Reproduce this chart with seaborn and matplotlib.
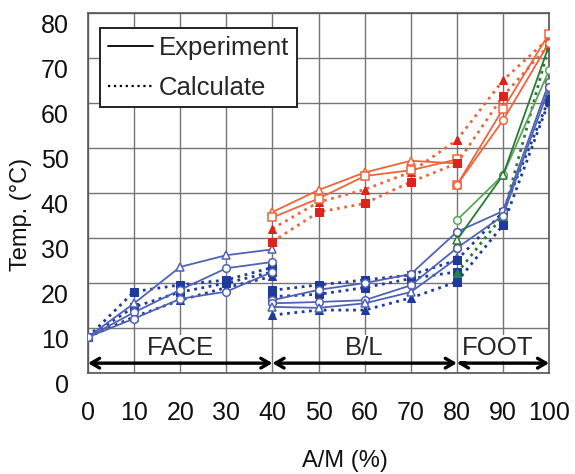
import numpy as np
import pandas as pd
import matplotlib
matplotlib.use("Agg")
import matplotlib.pyplot as plt
import matplotlib.transforms as mtransforms
from matplotlib.lines import Line2D
import seaborn as sns

# ---- data ----
x_face = [0, 10, 20, 30, 40]
face_exp_tri = [8.0, 15.5, 23.6, 26.2, 27.5]
face_exp_cir1 = [8.0, 13.5, 18.5, 23.3, 24.7]
face_exp_cir2 = [8.0, 12.1, 16.5, 18.1, 22.5]
face_calc_sq1 = [8.0, 18.1, 19.6, 20.7, 23.5]
face_calc_sq2 = [8.0, 14.7, 18.0, 20.0, 22.5]
face_calc_tri = [8.0, 12.5, 16.2, 19.0, 21.5]

x_bl = [40, 50, 60, 70, 80]
bl_exp_cir1 = [16.2, 18.5, 20.0, 22.0, 31.4]
bl_exp_cir2 = [15.5, 15.8, 16.2, 19.5, 27.8]
bl_exp_tri = [14.7, 14.5, 15.5, 18.0, 25.5]
bl_calc_sq1 = [18.4, 19.6, 20.7, 21.8, 25.1]
bl_calc_sq2 = [17.0, 17.5, 19.0, 21.0, 22.5]
bl_calc_tri = [12.9, 14.0, 14.0, 16.7, 20.3]

bl_red_exp_tri = [35.8, 40.7, 44.6, 47.2, 46.6]
bl_red_exp_sq = [34.6, 38.8, 43.8, 45.1, 47.5]
bl_red_calc_tri = [32.1, 38.0, 40.8, 44.7, 51.8]
bl_red_calc_sq = [29.2, 35.8, 37.7, 42.5, 46.6]

x_foot = [80, 90, 100]
foot_red_exp_sq = [41.8, 58.7, 75.5]
foot_red_exp_cir = [41.8, 56.2, 73.5]
foot_red_calc_tri = [51.8, 65.1, 74.5]
foot_red_calc_sq = [46.6, 61.6, 73.0]
foot_blue_exp1 = [31.4, 36.0, 64.7]
foot_blue_exp2 = [27.8, 35.0, 63.5]
foot_blue_calc1 = [25.1, 35.8, 61.0]
foot_blue_calc2 = [20.3, 32.9, 60.5]
foot_green_exp1 = [34.0, 44.0, 67.3]
foot_green_exp2 = [29.6, 44.0, 72.9]
foot_green_calc = [22.2, 35.0, 72.9]

regions = ["FACE", "B/L", "FOOT"]
region_edges = [0, 40, 80, 100]
xticks = list(range(0, 101, 10))
yticks = list(range(0, 81, 10))

BLUE_L = "#4f62b4"
BLUE_D = "#1f3a9c"
RED_L = "#f0643c"
RED_D = "#d9251c"
GREEN_L = "#5aa55a"
GREEN_D = "#2a7a34"

sns.set_style("whitegrid")
plt.rcParams["font.family"] = ["Liberation Sans", "DejaVu Sans"]

fig = plt.figure(figsize=(5.75, 4.74), dpi=100)
ax = fig.add_axes([0.153, 0.213, 0.802, 0.759])


def draw(x, y, color, marker, calc=False, fill=None):
    df = pd.DataFrame({"x": x, "y": y})
    if calc:
        sns.lineplot(data=df, x="x", y="y", ax=ax, color=color, linestyle=":",
                     linewidth=2.0, marker=marker, markersize=6,
                     markerfacecolor=fill or color, markeredgecolor=fill or color,
                     sort=False, legend=False, zorder=3)
    else:
        sns.lineplot(data=df, x="x", y="y", ax=ax, color=color, linestyle="-",
                     linewidth=1.3, marker=marker, markersize=5.5,
                     markerfacecolor="white", markeredgecolor=color,
                     markeredgewidth=1.1, sort=False, legend=False, zorder=3)


# FACE
draw(x_face, face_calc_sq1, BLUE_D, "s", True)
draw(x_face, face_calc_sq2, BLUE_D, "s", True)
draw(x_face, face_calc_tri, BLUE_D, "^", True)
draw(x_face, face_exp_tri, BLUE_L, "^")
draw(x_face, face_exp_cir1, BLUE_L, "o")
draw(x_face, face_exp_cir2, BLUE_L, "o")

# B/L
draw(x_bl, bl_calc_sq1, BLUE_D, "s", True)
draw(x_bl, bl_calc_sq2, BLUE_D, "s", True)
draw(x_bl, bl_calc_tri, BLUE_D, "^", True)
draw(x_bl, bl_exp_cir1, BLUE_L, "o")
draw(x_bl, bl_exp_cir2, BLUE_L, "o")
draw(x_bl, bl_exp_tri, BLUE_L, "^")
draw(x_bl, bl_red_calc_tri, RED_L, "^", True, RED_D)
draw(x_bl, bl_red_calc_sq, RED_L, "s", True, RED_D)
draw(x_bl, bl_red_exp_tri, RED_L, "^")
draw(x_bl, bl_red_exp_sq, RED_L, "s")

# FOOT
draw(x_foot, foot_blue_calc1, BLUE_D, "s", True)
draw(x_foot, foot_blue_calc2, BLUE_D, "s", True)
draw(x_foot, foot_green_calc, GREEN_D, "^", True, "#1c8c3c")
draw(x_foot, foot_blue_exp1, BLUE_L, "o")
draw(x_foot, foot_blue_exp2, BLUE_L, "o")
draw(x_foot, foot_green_exp1, GREEN_L, "o")
draw(x_foot, foot_green_exp2, GREEN_D, "^")
draw(x_foot, foot_red_calc_tri, RED_L, "^", True, RED_D)
draw(x_foot, foot_red_calc_sq, RED_L, "s", True, RED_D)
draw(x_foot, foot_red_exp_sq, RED_L, "s")
draw(x_foot, foot_red_exp_cir, RED_L, "o")

ax.set_xlim(0, 100)
ax.set_ylim(0, 80)
ax.set_xticks(xticks)
ax.set_yticks(yticks)
ax.grid(True, color="#757575", linewidth=1.0)
for sp in ax.spines.values():
    sp.set_visible(True)
    sp.set_color("#555555")
    sp.set_linewidth(1.2)
ax.tick_params(axis="x", labelsize=18, pad=20, length=0, colors="#111111")
ax.tick_params(axis="y", labelsize=18, pad=14, length=0, colors="#111111")
ax.set_xlabel("A/M (%)", fontsize=17, color="#111111")
ax.set_ylabel("Temp. (°C)", fontsize=17, color="#111111")
ax.xaxis.set_label_coords(0.557, -0.215)
ax.yaxis.set_label_coords(-0.122, 0.44)

# y tick labels sit a little below their grid lines in the original
off = mtransforms.ScaledTranslation(0, -10 / 100, fig.dpi_scale_trans)
for t in ax.yaxis.get_major_ticks():
    t.label1.set_transform(t.label1.get_transform() + off)

# region arrows and names
for name, a, b in zip(regions, region_edges[:-1], region_edges[1:]):
    ax.annotate("", xy=(b, 2.2), xytext=(a, 2.2),
                arrowprops=dict(arrowstyle="<->,head_length=0.6,head_width=0.35",
                                color="black", lw=2.4, shrinkA=0, shrinkB=0),
                zorder=4)
    cx = (a + b) / 2 - (1.2 if name == "FOOT" else 0)
    ax.text(cx, 5.6, name, ha="center", va="center", fontsize=18.5,
            bbox=dict(facecolor="white", edgecolor="none", pad=1.0), zorder=4)

handles = [Line2D([], [], color="black", linestyle="-", linewidth=1.3),
           Line2D([], [], color="black", linestyle=":", linewidth=1.6)]
leg = ax.legend(handles, ["Experiment", "Calculate"], loc="upper left",
                bbox_to_anchor=(0.026, 0.958), fontsize=18.5, frameon=True,
                fancybox=False, edgecolor="#222222", handlelength=1.75,
                handletextpad=0.23, borderpad=0.3, labelspacing=0.6,
                borderaxespad=0)
leg.get_frame().set_linewidth(1.4)
leg.get_frame().set_alpha(1)

fig.savefig("out.png", dpi=100)
